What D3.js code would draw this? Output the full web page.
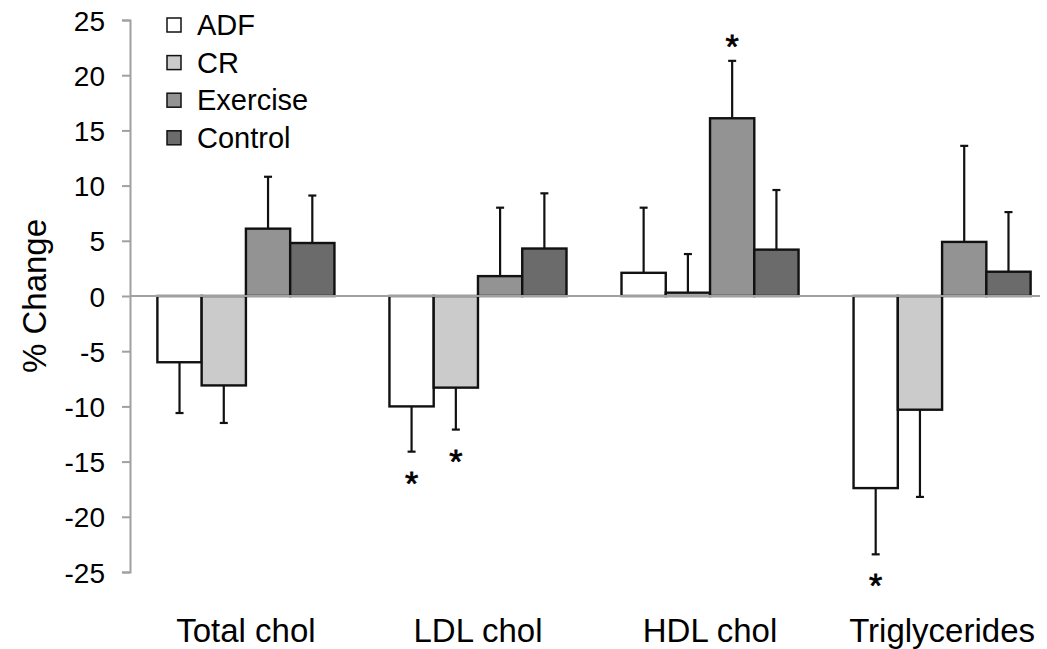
<!DOCTYPE html>
<html>
<head>
<meta charset="utf-8">
<script src="https://d3js.org/d3.v7.min.js"></script>
<style>
  body { margin: 0; background: #fff; }
  text { font-family: "Liberation Sans", Arial, sans-serif; fill: #000; }
</style>
</head>
<body>
<div id="chart"></div>
<script>
// measures and diet groups
var categories = ["Total chol", "LDL chol", "HDL chol", "Triglycerides"];
var groups = ["ADF", "CR", "Exercise", "Control"];
var colors = ["#ffffff", "#cbcbcb", "#939393", "#6b6b6b"];

// % change per group, one value per measure
var adf      = [-6.0, -10.0, 2.1, -17.4];
var cr       = [-8.1, -8.3, 0.3, -10.3];
var exercise = [6.1, 1.8, 16.1, 4.9];
var control  = [4.8, 4.3, 4.2, 2.2];

// error bar ends (value where the whisker stops)
var adfErr      = [-10.6, -14.1, 8.0, -23.4];
var crErr       = [-11.5, -12.1, 3.8, -18.2];
var exerciseErr = [10.8, 8.0, 21.3, 13.6];
var controlErr  = [9.1, 9.3, 9.6, 7.6];

// significance stars: [measure, group]
var stars = [["LDL chol", "ADF"], ["LDL chol", "CR"], ["HDL chol", "Exercise"], ["Triglycerides", "ADF"]];

var yTicks = [25, 20, 15, 10, 5, 0, -5, -10, -15, -20, -25];

var series = [adf, cr, exercise, control];
var errs = [adfErr, crErr, exerciseErr, controlErr];

var data = [];
categories.forEach(function(c, i) {
  groups.forEach(function(g, j) {
    data.push({cat: c, group: g, value: series[j][i], err: errs[j][i], color: colors[j]});
  });
});

var W = 1047, H = 649;
var svg = d3.select("#chart").append("svg")
  .attr("width", W)
  .attr("height", H);

var y = d3.scaleLinear().domain([-25, 25]).range([572, 20]);

var x0 = d3.scaleBand()
  .domain(categories)
  .range([130, 1058])
  .paddingInner(0.237)
  .paddingOuter(0.118);

var x1 = d3.scaleBand()
  .domain(groups)
  .range([0, x0.bandwidth()]);

// y axis (plain hyphen for negatives, like the original)
var yAxis = svg.append("g")
  .attr("transform", "translate(130,0)")
  .call(d3.axisLeft(y).tickValues(yTicks).tickSize(8).tickPadding(17)
    .tickFormat(function(d) { return String(d); }));
yAxis.select(".domain").attr("stroke", "#a0a0a0").attr("stroke-width", 2);
yAxis.selectAll(".tick line").attr("stroke", "#a0a0a0").attr("stroke-width", 2);
yAxis.selectAll(".tick text")
  .style("font-size", "28px")
  .style("font-family", "'Liberation Sans', Arial, sans-serif")
  .attr("fill", "#000")
  .attr("dy", "0.36em");

svg.append("text")
  .attr("transform", "translate(46," + y(0) + ") rotate(-90)")
  .attr("text-anchor", "middle")
  .style("font-size", "33px")
  .text("% Change");

// bars
svg.append("g").selectAll("rect")
  .data(data)
  .enter()
  .append("rect")
    .attr("x", function(d) { return x0(d.cat) + x1(d.group); })
    .attr("y", function(d) { return y(Math.max(0, d.value)); })
    .attr("width", x1.bandwidth())
    .attr("height", function(d) { return Math.abs(y(d.value) - y(0)); })
    .attr("fill", function(d) { return d.color; })
    .attr("stroke", "#111")
    .attr("stroke-width", 2.4);

// error bars
var eb = svg.append("g").selectAll("g")
  .data(data)
  .enter()
  .append("g")
    .attr("stroke", "#111")
    .attr("stroke-width", 2.2);
eb.append("line")
  .attr("x1", function(d) { return x0(d.cat) + x1(d.group) + x1.bandwidth() / 2; })
  .attr("x2", function(d) { return x0(d.cat) + x1(d.group) + x1.bandwidth() / 2; })
  .attr("y1", function(d) { return y(d.value); })
  .attr("y2", function(d) { return y(d.err); });
eb.append("line")
  .attr("x1", function(d) { return x0(d.cat) + x1(d.group) + x1.bandwidth() / 2 - 4; })
  .attr("x2", function(d) { return x0(d.cat) + x1(d.group) + x1.bandwidth() / 2 + 4; })
  .attr("y1", function(d) { return y(d.err); })
  .attr("y2", function(d) { return y(d.err); });

// zero line
svg.append("line")
  .attr("x1", 130).attr("x2", 1040)
  .attr("y1", y(0)).attr("y2", y(0))
  .attr("stroke", "#a0a0a0")
  .attr("stroke-width", 2);

// stars
svg.append("g").selectAll("text")
  .data(stars)
  .enter()
  .append("text")
    .attr("x", function(s) { return x0(s[0]) + x1(s[1]) + x1.bandwidth() / 2; })
    .attr("y", function(s) {
      var d = data.find(function(e) { return e.cat == s[0] && e.group == s[1]; });
      var off = d.err >= 0 ? -22 : 24;
      return y(d.err) + off + 19;
    })
    .attr("text-anchor", "middle")
    .style("font-size", "34px")
    .style("stroke", "#000")
    .style("stroke-width", 0.8)
    .text("*");

// category labels
svg.append("g").selectAll("text")
  .data(categories)
  .enter()
  .append("text")
    .attr("x", function(c) { return x0(c) + x0.bandwidth() / 2; })
    .attr("y", 642)
    .attr("text-anchor", "middle")
    .style("font-size", "33px")
    .text(function(c) { return c; });

// legend
var legend = svg.append("g").selectAll("g")
  .data(groups)
  .enter()
  .append("g")
    .attr("transform", function(d, i) { return "translate(167," + (25 + i * 37.6) + ")"; });
legend.append("rect")
  .attr("x", 0).attr("y", -7)
  .attr("width", 14).attr("height", 14)
  .attr("fill", function(d, i) { return colors[i]; })
  .attr("stroke", "#111")
  .attr("stroke-width", 1.5);
legend.append("text")
  .attr("x", 30)
  .attr("y", 10)
  .style("font-size", "29px")
  .text(function(d) { return d; });
</script>
</body>
</html>
